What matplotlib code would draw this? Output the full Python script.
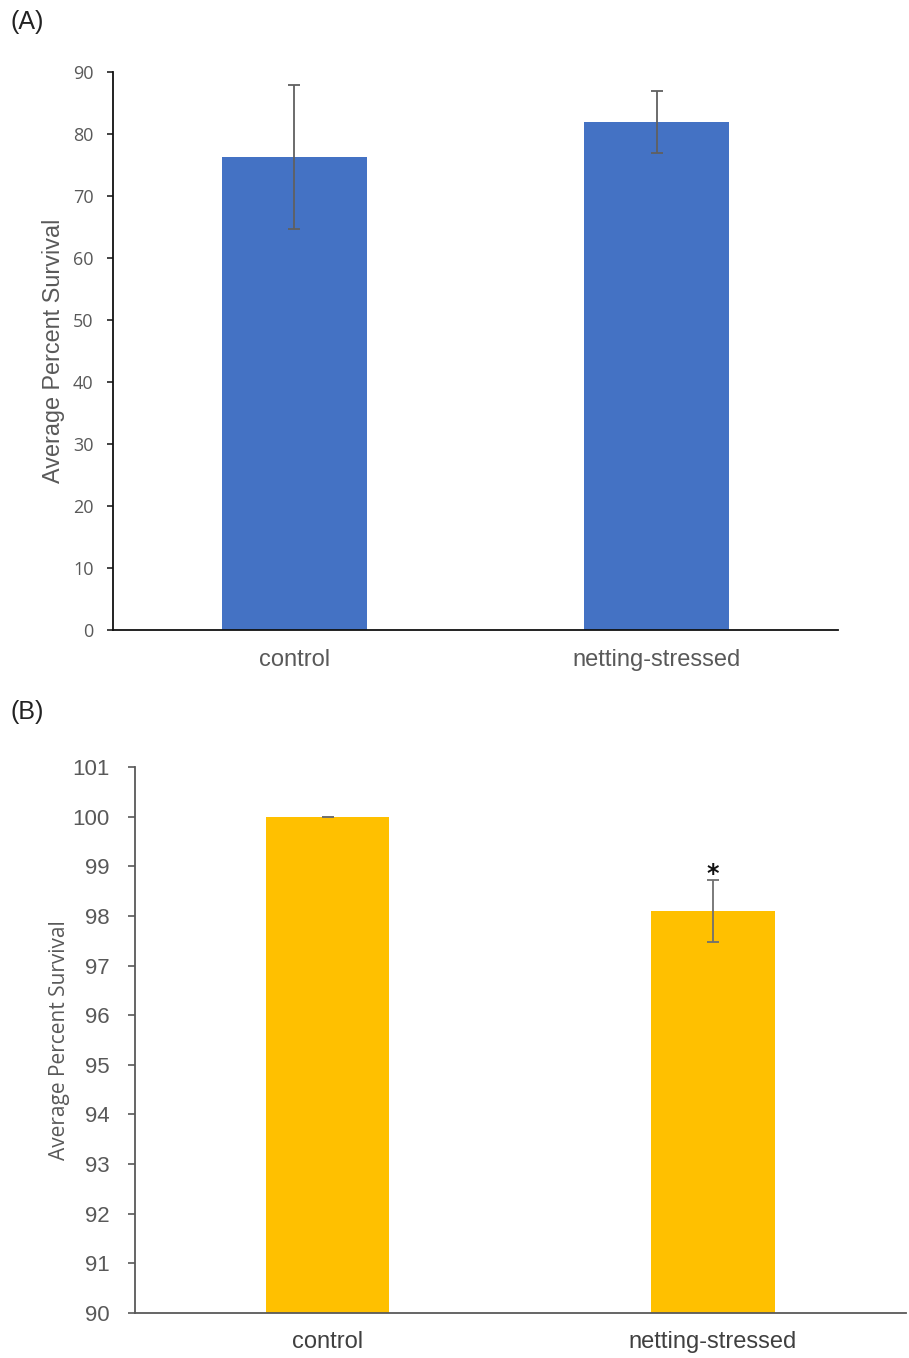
import matplotlib
matplotlib.use("Agg")
import matplotlib.pyplot as plt

categories = ["control", "netting-stressed"]
survival_a = [76.3, 81.9]
err_a = [11.65, 5.0]
survival_b = [100.0, 98.1]
err_b = [0.0, 0.63]
yticks_a = [0, 10, 20, 30, 40, 50, 60, 70, 80, 90]
yticks_b = [90, 91, 92, 93, 94, 95, 96, 97, 98, 99, 100, 101]

W, H = 909, 1358
fig = plt.figure(figsize=(W / 100, H / 100), dpi=100)
gray = "#595959"

def fr(l, t, r, b):
    return [l / W, 1 - b / H, (r - l) / W, (b - t) / H]

# Panel A
axA = fig.add_axes(fr(113, 72, 838, 630))
x = range(len(categories))
axA.bar(x, survival_a, width=0.4, color="#4472C4", zorder=2)
axA.errorbar(x, survival_a, yerr=err_a, fmt="none", ecolor="#606060",
             elinewidth=1.3, capsize=4, capthick=1.3, zorder=3)
axA.set_xlim(-0.5, 1.5)
axA.set_ylim(0, 90)
axA.set_yticks(yticks_a)
axA.set_xticks(list(x))
axA.set_xticklabels(categories, fontsize=17, color=gray, family="Liberation Sans")
axA.tick_params(axis="x", length=0, pad=14)
axA.tick_params(axis="y", length=4, width=1.2, color="#222222", labelsize=13,
                labelcolor=gray, pad=10)
for lab in axA.get_yticklabels():
    lab.set_family("Open Sans")
for s in ["top", "right"]:
    axA.spines[s].set_visible(False)
axA.spines["left"].set_color("#111111")
axA.spines["bottom"].set_color("#111111")
axA.spines["left"].set_linewidth(1.3)
axA.spines["bottom"].set_linewidth(1.3)
axA.set_ylabel("Average Percent Survival", fontsize=16.8, color=gray,
               family="Liberation Sans", labelpad=6)
fig.text(11 / W, 1 - 22 / H, "(A)", fontsize=18, color="#222222",
         family="Liberation Sans", va="center", ha="left")

# Panel B
axB = fig.add_axes(fr(135, 767, 905.5, 1313))
axB.bar(x, survival_b, width=0.32, color="#FFC000", zorder=2)
axB.errorbar(x, survival_b, yerr=err_b, fmt="none", ecolor="#707070",
             elinewidth=1.3, capsize=4, capthick=1.3, zorder=3)
axB.text(1, survival_b[1] + err_b[1] - 0.12, "*", ha="center", va="bottom",
         fontsize=17, fontweight="bold", color="#111111", family="DejaVu Sans")
axB.set_xlim(-0.5, 1.5)
axB.set_ylim(90, 101)
axB.set_yticks(yticks_b)
axB.set_xticks(list(x))
axB.set_xticklabels(categories, fontsize=17, color="#404040", family="Liberation Sans")
axB.tick_params(axis="x", length=0, pad=13)
axB.tick_params(axis="y", length=5, width=1.2, color=gray, labelsize=16,
                labelcolor=gray, pad=13)
for lab in axB.get_yticklabels():
    lab.set_family("Liberation Sans")
for s in ["top", "right"]:
    axB.spines[s].set_visible(False)
axB.spines["left"].set_color(gray)
axB.spines["bottom"].set_color(gray)
axB.spines["left"].set_linewidth(1.3)
axB.spines["bottom"].set_linewidth(1.3)
axB.set_ylabel("Average Percent Survival", fontsize=15, color=gray,
               family="Open Sans", labelpad=2)
fig.text(11 / W, 1 - 712 / H, "(B)", fontsize=18, color="#222222",
         family="Liberation Sans", va="center", ha="left")

fig.savefig("out.png", dpi=100)
